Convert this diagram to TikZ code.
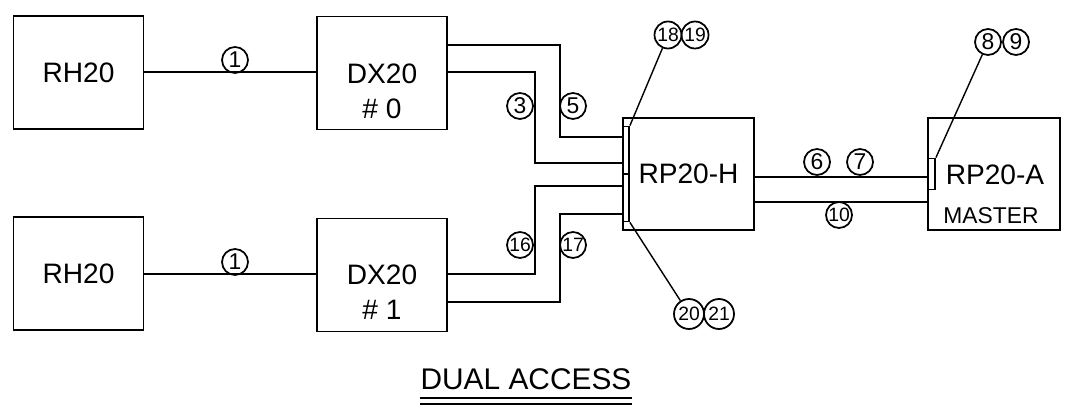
\documentclass[tikz,border=0pt]{standalone}
\usepackage{fontspec}
\setmainfont{Liberation Sans}
\begin{document}
\begin{tikzpicture}[x=0.02cm,y=-0.02cm,line width=0.8pt,
unit/.style={draw=black,line width=1pt,rectangle,fill=white,minimum width=2.6cm,minimum height=2.26cm,inner sep=0pt,font=\fontsize{16}{20}\selectfont},
txt/.style={inner sep=0pt,align=center,font=\fontsize{16}{20}\selectfont},
num/.style={draw=black,line width=1pt,circle,inner sep=0pt,minimum size=0.52cm,font=\fontsize{13}{13}\selectfont},
pair/.style={num,font=\fontsize{11}{11}\selectfont},
strip/.style={draw=black,line width=1pt,rectangle,inner sep=0pt,minimum width=0.12cm}]
\useasboundingbox (0,0) rectangle (1077,411);
\node[unit] (RHA) at (78.5,72.5) {RH20};
\node[unit] (RHB) at (78.5,273.5) {RH20};
\node[unit] (DXA) at (382,73) {};
\node[unit] (DXB) at (382,275) {};
\node[unit,minimum width=2.62cm,minimum height=2.24cm] (RPH) at (688.5,174) {RP20-H};
\node[unit,minimum width=2.64cm,minimum height=2.24cm] (RPA) at (994,174) {};
\node[txt] (DXAT) at ([yshift=-0.36cm]DXA.center) {DX20\\\# 0};
\node[txt] (DXBT) at ([yshift=-0.34cm]DXB.center) {DX20\\\# 1};
\node[txt] (RPAT) at (995,175) {RP20-A};
\node[txt,font=\fontsize{13}{13}\selectfont] (RPAM) at (991,216) {MASTER};
\node[strip,minimum height=1.9cm,anchor=west] (HS) at (RPH.west) {};
\node[strip,minimum width=0.14cm,minimum height=0.62cm,anchor=west] (AS) at (RPA.west) {};
\draw (HS.west) -- (HS.east);
\draw (RHA.east |- 0,72) -- (DXA.west |- 0,72);
\draw (RHB.east |- 0,274) -- (DXB.west |- 0,274);
\draw (DXA.east |- 0,45) -| (560,137) -- (HS.west |- 0,137);
\draw (DXA.east |- 0,72) -| (535,163) -- (HS.west |- 0,163);
\draw (DXB.east |- 0,274) -| (535,186) -- (HS.west |- 0,186);
\draw (DXB.east |- 0,302) -| (560,214) -- (HS.west |- 0,214);
\draw (RPH.east |- 0,177) -- (AS.west |- 0,177);
\draw (RPH.east |- 0,202) -- (RPA.west |- 0,202);
\node[num] (N1A) at (235,60) {1};
\node[num] (N1B) at (235,262) {1};
\node[num] (N3) at (520,106) {3};
\node[num] (N5) at (573,106) {5};
\node[pair] (N16) at (520,245) {16};
\node[pair] (N17) at (573,245) {17};
\node[pair,minimum size=0.54cm] (N18) at (668,35) {18};
\node[pair,minimum size=0.54cm] (N19) at (695,35) {19};
\node[pair,minimum size=0.6cm] (N20) at (689,314) {20};
\node[pair,minimum size=0.6cm] (N21) at (719,314) {21};
\node[num] (N6) at (817,162) {6};
\node[num] (N7) at (860,162) {7};
\node[pair] (N10) at (839,215) {10};
\node[num] (N8) at (988,42) {8};
\node[num] (N9) at (1016,42) {9};
\draw (N18) -- (HS.north east);
\draw (HS.south east) -- (N20);
\draw (N8) -- (AS.north east);
\node[inner sep=0pt,font=\fontsize{17}{17}\selectfont] (TTL) at (526,379) {DUAL ACCESS};
\draw (TTL.west |- 0,398) -- (TTL.east |- 0,398);
\draw (TTL.west |- 0,404) -- (TTL.east |- 0,404);
\end{tikzpicture}
\end{document}
